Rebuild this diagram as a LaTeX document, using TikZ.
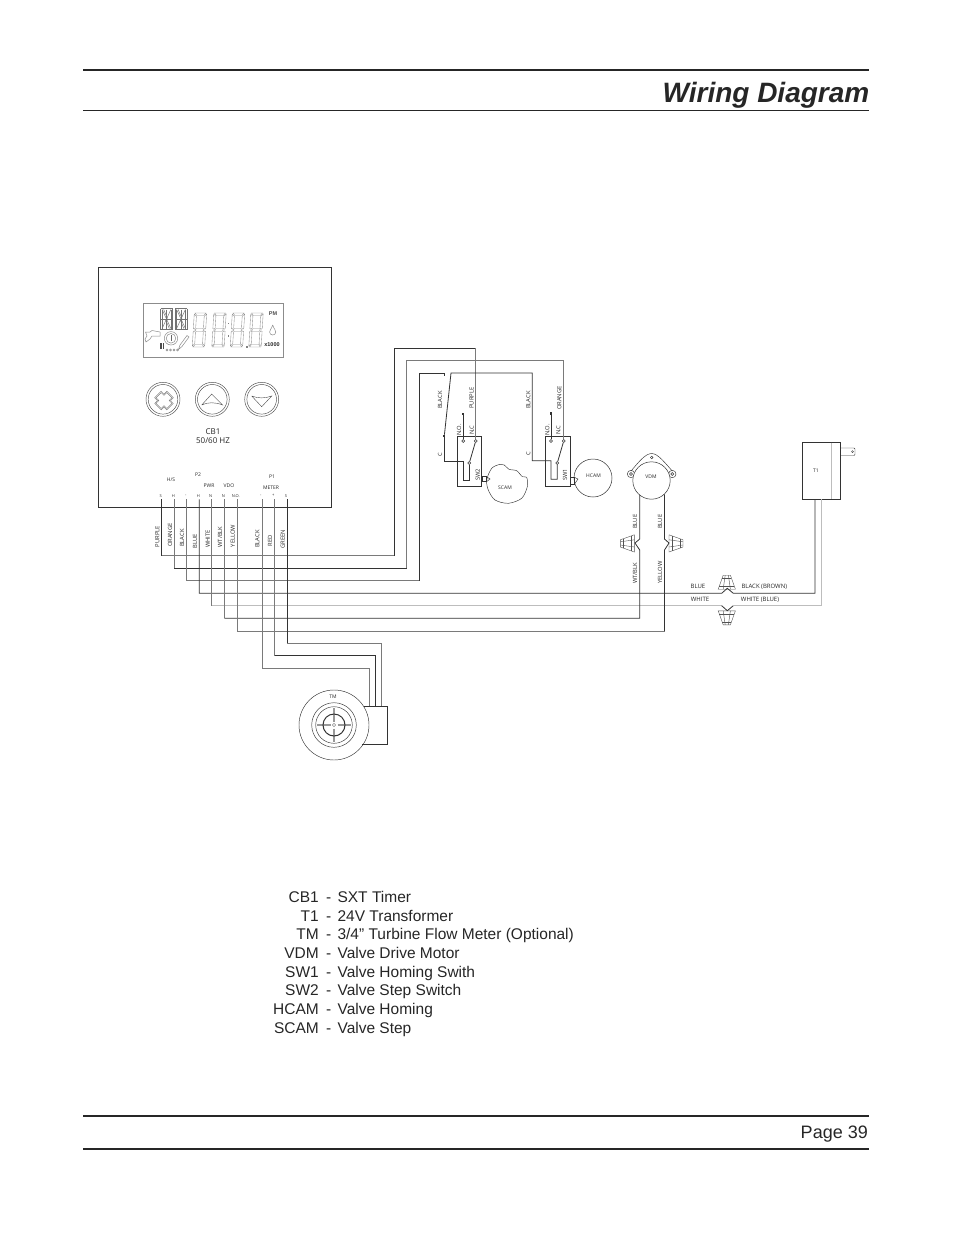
\documentclass[tikz,border=0pt]{standalone}
\usepackage{fontspec}
\setmainfont{Liberation Sans}
\newfontfamily\smallfont{Open Sans}
\usepackage{tikz}
\usepackage{xcolor}

\definecolor{wiredark}{HTML}{333333}
\definecolor{wiremid}{HTML}{7A7A7A}
\definecolor{wirelight}{HTML}{BDBDBD}

\tikzset{
  wirea/.style={draw=wiredark,line width=0.8pt},
  wireb/.style={draw=wiremid,line width=0.8pt},
  wirec/.style={draw=wirelight,line width=0.9pt},
  part/.style={draw=wiredark,line width=0.45pt},
  lcdline/.style={draw=black!45,line width=0.35pt},
  tag/.style={inner sep=0pt,font=\smallfont\fontsize{5}{5}\selectfont,text=black!85},
  widetag/.style={inner sep=0pt,font=\smallfont\fontsize{6}{6}\selectfont,text=black!85},
  vtag/.style={inner sep=0pt,rotate=90,font=\smallfont\fontsize{5.8}{5.8}\selectfont,text=black!85},
  pin/.style={inner sep=0pt,font=\smallfont\fontsize{4}{4}\selectfont,text=black!85},
  term/.style={circle,draw=wiredark,fill=white,line width=0.5pt,inner sep=0pt,minimum size=3pt},
  stubend/.style={rectangle,fill=wiredark,inner sep=0pt,minimum size=2.2pt},
  legendname/.style={anchor=base east,inner sep=0pt,font=\fontsize{15.5}{15.5}\selectfont,text=black!85},
  legendtext/.style={anchor=base west,inner sep=0pt,font=\fontsize{15.5}{15.5}\selectfont,text=black!85},
}

% one seven-segment digit, top left corner at #1,#2
\newcommand{\lcddigit}[2]{
  \begin{scope}[shift={(#1,#2)},xslant=0.06,lcdline]
    \draw(1,0)--(12,0)--(10,2.5)--(3,2.5)--cycle;
    \draw(1,34)--(12,34)--(10,31.5)--(3,31.5)--cycle;
    \draw(2,17)--(3.5,15.5)--(9.5,15.5)--(11,17)--(9.5,18.5)--(3.5,18.5)--cycle;
    \draw(0.3,1)--(2.6,3.4)--(2.6,14.8)--(1.2,16.2)--(0.3,15.5)--cycle;
    \draw(12.7,1)--(10.4,3.4)--(10.4,14.8)--(11.8,16.2)--(12.7,15.5)--cycle;
    \draw(0.3,18.5)--(1.2,17.8)--(2.6,19.2)--(2.6,30.6)--(0.3,33)--cycle;
    \draw(12.7,18.5)--(11.8,17.8)--(10.4,19.2)--(10.4,30.6)--(12.7,33)--cycle;
  \end{scope}
}
% one letter cell of the display
\newcommand{\lcdletter}[2]{
  \begin{scope}[shift={(#1,#2)},draw=black!55,line width=0.45pt]
    \draw(0,0)--(12,0);
    \draw(0,21)--(12,21);
    \draw(0,0)--(0,21);
    \draw(12,0)--(12,21);
    \draw(0,10.5)--(12,10.5);
    \draw(1.6,1)--(1.6,20);
    \draw(10.4,1)--(10.4,20);
    \draw(6,1)--(6,20);
    \draw(1.6,1)--(6,10.5)--(10.4,1);
    \draw(1.6,20)--(6,10.5)--(10.4,20);
    \draw(3.2,1)--(7,10);
    \draw(8.8,20)--(5,11);
  \end{scope}
}
% wire connector, wide side at #1,#2, turned by #3
\newcommand{\wirenut}[3]{
  \begin{scope}[shift={(#1,#2)},rotate=#3,draw=wiredark!85,line width=0.4pt]
    \draw(-8.6,0)--(-3.6,-14)--(3.6,-14)--(8.6,0)--cycle;
    \draw(-7.6,-3)--(7.6,-3);
    \draw(-4.4,-11.5)--(4.4,-11.5);
    \draw(-3.6,0)--(-1.6,-14);
    \draw(3.6,0)--(1.6,-14);
  \end{scope}
}

\begin{document}
\begin{tikzpicture}[x=1pt,y=-1pt]
        \useasboundingbox (0,0) rectangle (954,1235);

        % page head and foot
        \coordinate(heada) at (83,70);
        \coordinate(headb) at (869,70);
        \coordinate(headc) at (83,110);
        \coordinate(headd) at (869,110);
        \coordinate(foota) at (83,1116);
        \coordinate(footb) at (869,1116);
        \coordinate(footc) at (83,1149);
        \coordinate(footd) at (869,1149);
        \draw[line width=1.7pt,black!85](heada)--(headb);
        \draw[line width=0.7pt,black!85](headc)--(headd);
        \draw[line width=1.7pt,black!85](foota)--(footb);
        \draw[line width=1.7pt,black!85](footc)--(footd);
        \node[anchor=base east,inner sep=0pt,font=\fontsize{28}{28}\selectfont\bfseries\itshape,text=black!85](title) at (869.5,102) {Wiring Diagram};
        \node[anchor=base east,inner sep=0pt,font=\fontsize{18}{18}\selectfont,text=black!85](page) at (868,1138) {Page 39};

        % timer
        \draw[line width=0.8pt,wiredark](98,267) rectangle (331.5,507);
        \draw[draw=black!45,line width=0.6pt](143,303.5) rectangle (283,357);
        \lcdletter{160.5}{308.5}
        \lcdletter{175}{308.5}
        \lcddigit{194}{313}
        \lcddigit{213.5}{313}
        \lcddigit{232}{313}
        \lcddigit{250.5}{313}
        \fill[black!50](227.5,322.5) rectangle (229,324);
        \fill[black!50](227.5,335) rectangle (229,336.5);
        \fill[black!50](246,346) rectangle (247.5,347.5);
        \node[inner sep=0pt,font=\fontsize{5.5}{5.5}\selectfont\bfseries,text=black!70](pmsign) at (273,314) {PM};
        \node[inner sep=0pt,font=\fontsize{5.5}{5.5}\selectfont\bfseries,text=black!85](xsign) at (272,345) {x1000};
        \draw[lcdline,line width=0.5pt](272.7,325) .. controls (271.5,329) and (269.6,330) .. (269.6,332) .. controls (269.6,336) and (275.8,336) .. (275.8,332) .. controls (275.8,330) and (273.9,329) .. (272.7,325);
        % tap, clock, dots, pencil
        \draw[lcdline,line width=0.5pt](145.5,332)--(150,332)--(152,330.5)--(160,332)--(160,336)--(152,336)--(150,339)--(146,342)--(145,339)--(147,336)--cycle;
        \draw[black!70,line width=0.5pt](160,343)--(160,349);
        \draw[black!70,line width=0.5pt](161.5,343)--(161.5,349);
        \draw[black!70,line width=0.5pt](163,343)--(163,349);
        \draw[lcdline,line width=0.5pt](171,338.3) circle (6.7);
        \draw[lcdline,line width=0.5pt](171,338.3) circle (4.8);
        \draw[black!60,line width=0.9pt](171,334.5)--(171,341);
        \draw[lcdline,line width=0.5pt](167,350) circle (1);
        \draw[lcdline,line width=0.5pt](170.5,350) circle (1);
        \draw[lcdline,line width=0.5pt](174,350) circle (1);
        \draw[lcdline,line width=0.5pt](177.5,350) circle (1);
        \draw[lcdline,line width=0.5pt](178.5,349.5)--(180,345)--(187,335.5)--(189,337)--(182,346.5)--cycle;

        % timer buttons
        \draw[line width=0.45pt,black!70](163,399.3) circle (17);
        \draw[line width=0.45pt,black!70](163,399.3) circle (14.8);
        \draw[line width=0.45pt,black!70](212.3,399.3) circle (17);
        \draw[line width=0.45pt,black!70](212.3,399.3) circle (14.8);
        \draw[line width=0.45pt,black!70](261.7,399.3) circle (17);
        \draw[line width=0.45pt,black!70](261.7,399.3) circle (14.8);
        \begin{scope}[shift={(164,400.5)},rotate=45,line width=0.35pt,draw=black!60]
          \draw(-4.6,-8.6)--(4.6,-8.6)--(4.6,-4.6)--(8.6,-4.6)--(8.6,4.6)--(4.6,4.6)--(4.6,8.6)--(-4.6,8.6)--(-4.6,4.6)--(-8.6,4.6)--(-8.6,-4.6)--(-4.6,-4.6)--cycle;
          \draw(-3.6,-7.6)--(3.6,-7.6)--(3.6,-3.6)--(7.6,-3.6)--(7.6,3.6)--(3.6,3.6)--(3.6,7.6)--(-3.6,7.6)--(-3.6,3.6)--(-7.6,3.6)--(-7.6,-3.6)--(-3.6,-3.6)--cycle;
        \end{scope}
        \draw[line width=0.4pt,black!70](201.7,405)--(211.7,394)--(222.7,405) .. controls (215,402) and (208,402) .. (201.7,405);
        \draw[line width=0.4pt,black!70](251.7,396)--(261.7,406.7)--(271.7,396) .. controls (265,398.5) and (258,398.5) .. (251.7,396);
        \node[inner sep=0pt,font=\smallfont\fontsize{8}{8}\selectfont,text=black!85](cbname) at (213,432) {CB1};
        \node[inner sep=0pt,font=\smallfont\fontsize{8}{8}\selectfont,text=black!85](cbfreq) at (213,441) {50/60 HZ};

        % connector row
        \node[tag](hs) at (171,480) {H/S};
        \node[tag](ptwo) at (198,475) {P2};
        \node[tag](pwr) at (209,485.5) {PWR};
        \node[tag](vdo) at (229,485.5) {VDO};
        \node[tag](pone) at (272,477) {P1};
        \node[tag](meter) at (271,488) {METER};
        \node[pin](pina) at (160.7,495.7) {S};
        \node[pin](pinb) at (173.3,495.7) {H};
        \node[pin](pinc) at (185.7,495.7) {-};
        \node[pin](pind) at (198.3,495.7) {H};
        \node[pin](pine) at (210.7,495.7) {N};
        \node[pin](pinf) at (223.3,495.7) {N};
        \node[pin](ping) at (235.7,495.7) {N.O.};
        \node[pin](pinh) at (260.7,495.7) {-};
        \node[pin](pini) at (273.3,495.7) {+};
        \node[pin](pinj) at (286,495.7) {S};

        \coordinate(purpletop) at (161.7,499.3);
        \coordinate(orangetop) at (174.3,499.3);
        \coordinate(blacktop) at (186.7,499.3);
        \coordinate(bluetop) at (199.3,499.3);
        \coordinate(whitetop) at (211.7,499.3);
        \coordinate(wtblktop) at (224.3,499.3);
        \coordinate(yellowtop) at (237,499.3);
        \coordinate(mblacktop) at (262,499.3);
        \coordinate(redtop) at (274.7,499.3);
        \coordinate(greentop) at (287.3,499.3);

        \node[vtag](purplelabel) at (157.3,536.7) {PURPLE};
        \node[vtag](orangelabel) at (170,535) {ORANGE};
        \node[vtag](blacklabel) at (182,538) {BLACK};
        \node[vtag](bluelabel) at (195,541) {BLUE};
        \node[vtag](whitelabel) at (207.7,539) {WHITE};
        \node[vtag](wtblklabel) at (220,537) {WT/BLK};
        \node[vtag](yellowlabel) at (232.7,536) {YELLOW};
        \node[vtag](mblacklabel) at (257.3,539) {BLACK};
        \node[vtag](redlabel) at (270,541) {RED};
        \node[vtag](greenlabel) at (282.7,539) {GREEN};

        % switch SW2 and its cam
        \node[draw=wiredark,line width=0.5pt,minimum width=24.7pt,minimum height=50.7pt,inner sep=0pt](swtwo) at (469.35,461.35) {};
        \node[vtag](swtwolabel) at (477.7,475) {SW2};
        \node[vtag](cpintwo) at (440,455) {C};
        \node[vtag](nolabtwo) at (459,430) {N.O.};
        \node[vtag](nclabtwo) at (471.7,430) {N.C};
        \node[vtag](blkswtwo) at (440,400) {BLACK};
        \node[vtag](purswtwo) at (471.5,398) {PURPLE};
        \node[term](nctwo) at (475.7,441) {};
        \node[term](notwo) at (463.3,441) {};
        \node[term](pivottwo) at (469.3,463) {};
        \node[stubend](nostubtwo) at (463.3,413.7) {};
        \node[stubend](ctwo) at (444.3,436) {};
        \draw[wirea](nostubtwo)--(notwo);
        \draw[wirea](pivottwo)--(nctwo);
        \coordinate(ubendtwo) at (463.3,461);
        \coordinate(ubottwoa) at (463.3,480);
        \coordinate(ubottwob) at (469.3,480);
        \coordinate(cdowntwo) at (444.3,461);
        \draw[wirea](ctwo)--(cdowntwo)--(ubendtwo)--(ubottwoa)--(ubottwob)--(pivottwo);
        \draw[part](482,476.7) rectangle (486.5,481.7);
        \draw[part](486.5,476.7)--(490,479)--(486.5,481.7);
        \draw[part] plot[smooth cycle] coordinates {(486.7,480) (491.7,468.3) (500,464.3) (504.3,465) (509,469.3) (516.7,470.7) (522.3,476.7) (526.7,477.3) (527.3,486.7) (521.7,498.3) (508.3,503.3) (495,500) (488.3,490)};
        \node[tag](scam) at (505,488) {SCAM};

        % switch SW1 and its cam
        \node[draw=wiredark,line width=0.5pt,minimum width=25pt,minimum height=50.7pt,inner sep=0pt](swone) at (557.5,461.35) {};
        \node[vtag](swonelabel) at (565,475) {SW1};
        \node[vtag](cpinone) at (528.3,454) {C};
        \node[vtag](nolabone) at (547.3,430) {N.O.};
        \node[vtag](nclabone) at (558.3,430) {N.C};
        \node[vtag](blkswone) at (528.3,400) {BLACK};
        \node[vtag](orswone) at (559.3,398) {ORANGE};
        \node[term](ncone) at (563.7,441) {};
        \node[term](noone) at (551,441) {};
        \node[term](pivotone) at (557.3,463) {};
        \node[stubend](nostubone) at (551,413.5) {};
        \draw[wirea](nostubone)--(noone);
        \draw[wirea](pivotone)--(ncone);
        \draw[part](570,477.3) rectangle (574.5,484);
        \draw[part](574.5,477.3)--(578,479)--(574.5,484);
        \node[circle,draw=wiredark,line width=0.5pt,minimum size=38pt,inner sep=0pt](hcamwheel) at (593,478) {};
        \node[tag](hcam) at (593.5,476) {HCAM};

        % drive motor
        \draw[part](631,471) .. controls (638,463) and (645,453.5) .. (651.7,453.5) .. controls (658,453.5) and (665,463) .. (672.3,471);
        \draw[part](631,474) circle (3.7);
        \draw[part](672.3,474) circle (3.7);
        \draw[part](631,474) circle (1.5);
        \draw[part](672.3,474) circle (1.5);
        \draw[part](651.7,457.5) circle (1.3);
        \node[circle,draw=wiredark,fill=white,line width=0.5pt,minimum size=37.4pt,inner sep=0pt](vdmwheel) at (651.5,480.5) {};
        \node[tag](vdm) at (651,477) {VDM};
        \node[vtag](bluel) at (635,521.7) {BLUE};
        \node[vtag](bluer) at (660,521.7) {BLUE};
        \node[vtag](wtblkv) at (635,573.3) {WT/BLK};
        \node[vtag](yellowv) at (660,572.7) {YELLOW};

        \wirenut{634.3}{543.4}{90}
        \wirenut{669}{543.4}{-90}
        \wirenut{726.8}{589.2}{0}
        \wirenut{726.8}{610.8}{180}

        % transformer
        \node[draw=wiredark,line width=0.5pt,minimum width=38pt,minimum height=56.6pt,inner sep=0pt](tone) at (821.7,471) {};
        \coordinate(tonelinea) at (831,442.7);
        \coordinate(tonelineb) at (831,499.3);
        \draw[wirelight,line width=0.8pt](tonelinea)--(tonelineb);
        \draw[draw=wiredark,line width=0.4pt,rounded corners=1pt](840.7,448)--(855,448)--(855,455.5)--(840.7,455.5);
        \draw[draw=wiredark,line width=0.35pt](852.5,451.7) circle (1);
        \node[tag](tonelabel) at (816,471) {T1};
        \coordinate(tonebk) at (815,499.3);
        \coordinate(tonewh) at (821.7,499.3);
        \node[widetag](bluebk) at (698,586.7) {BLUE};
        \node[widetag](whitewh) at (700,599.7) {WHITE};
        \node[widetag](brownbk) at (764.3,586.7) {BLACK (BROWN)};
        \node[widetag](bluewh) at (760,599.7) {WHITE (BLUE)};

        % flow meter
        \draw[part](364,706)--(387.7,706)--(387.7,744)--(362,744);
        \draw[part](334,725) circle (35);
        \draw[draw=black!40,line width=1.4pt](337.5,725)--(351.3,725);
        \draw[draw=black!40,line width=1.4pt](330.5,725)--(316.7,725);
        \draw[draw=black!40,line width=1.4pt](334,721.5)--(334,707.7);
        \draw[draw=black!40,line width=1.4pt](334,728.5)--(334,742.3);
        \draw[part](334,725) circle (22.3);
        \draw[part](334,725) circle (18.3);
        \draw[line width=1pt,wiredark](334,725) circle (11);
        \draw[draw=black!60,line width=0.4pt](334,725) circle (1.6);
        \node[tag](tm) at (333,697) {TM};

        % wires from the timer
        \coordinate(purpleq) at (161.7,555.7);
        \coordinate(purplea) at (394,555.7);
        \coordinate(purpleb) at (394,348);
        \coordinate(purplec) at (475.7,348);
        \draw[wirea](purpletop)--(purpleq);
        \draw[wireb](purpleq)--(purplea);
        \draw[wirea](purplea)--(purpleb)--(purplec);
        \draw[wireb](purplec)--(nctwo);

        \coordinate(orangeq) at (174.3,568.3);
        \coordinate(orangea) at (406.7,568.3);
        \coordinate(orangeb) at (406.7,360.7);
        \coordinate(orangec) at (563.7,360.7);
        \draw[wireb](orangetop)--(orangeq);
        \draw[wirea](orangeq)--(orangea);
        \draw[wireb](orangea)--(orangeb)--(orangec)--(ncone);

        \coordinate(blackq) at (186.7,580.7);
        \coordinate(blacka) at (419.3,580.7);
        \coordinate(blackb) at (419.3,373);
        \coordinate(blackc) at (444.3,373);
        \coordinate(blackd) at (444.3,376);
        \draw[wireb](blacktop)--(blackq)--(blacka);
        \draw[wirea](blacka)--(blackb)--(blackc)--(blackd);
        \coordinate(blacke) at (451,373);
        \coordinate(blackf) at (532.3,373);
        \coordinate(blackg) at (532.3,460.7);
        \coordinate(blackh) at (551,460.7);
        \coordinate(blacki) at (551,479.3);
        \coordinate(blackj) at (557.3,479.3);
        \draw[wirea](ctwo)--(blacke)--(blackf)--(blackg)--(blackh)--(blacki)--(blackj)--(pivotone);

        \coordinate(bluea) at (721.7,593.3);
        \coordinate(blueb) at (727.3,588.3);
        \coordinate(bluec) at (733.3,593.3);
        \draw[wirea](bluetop)|-(bluea)--(blueb)--(bluec)-|(tonebk);

        \coordinate(whiteq) at (211.7,605.7);
        \coordinate(whitea) at (721.7,605.7);
        \coordinate(whiteb) at (727.3,610.7);
        \coordinate(whitec) at (733.3,605.7);
        \draw[wireb](whitetop)--(whiteq);
        \draw[wirec](whiteq)--(whitea);
        \draw[wirea](whitea)--(whiteb)--(whitec);
        \draw[wirec](whitec)-|(tonewh);

        \coordinate(wtblkq) at (224.3,618.3);
        \coordinate(wtblka) at (639.7,618.3);
        \coordinate(wtblkb) at (639.7,550);
        \coordinate(wtblkc) at (635,543);
        \coordinate(wtblkd) at (639.7,539);
        \coordinate(wtblke) at (639.7,495.2);
        \draw[wireb](wtblktop)--(wtblkq);
        \draw[wirea](wtblkq)--(wtblka)--(wtblkb)--(wtblkc)--(wtblkd)--(wtblke);

        \coordinate(yellowa) at (664.5,631);
        \coordinate(yellowb) at (664.5,550);
        \coordinate(yellowc) at (669,543);
        \coordinate(yellowd) at (664.5,539);
        \coordinate(yellowe) at (664.5,494.4);
        \draw[wireb](yellowtop)|-(yellowa);
        \draw[wirea](yellowa)--(yellowb)--(yellowc)--(yellowd)--(yellowe);

        \coordinate(mblacka) at (369,668);
        \coordinate(mblackb) at (369,706);
        \draw[wireb](mblacktop)|-(mblacka)--(mblackb);
        \coordinate(redq) at (274.7,655.7);
        \coordinate(reda) at (375.7,655.7);
        \coordinate(redb) at (375.7,706);
        \draw[wireb](redtop)--(redq);
        \draw[wirea](redq)--(reda)--(redb);
        \coordinate(greenq) at (287.3,643.3);
        \coordinate(greena) at (381,643.3);
        \coordinate(greenb) at (381,706);
        \draw[wirea](greentop)--(greenq);
        \draw[wireb](greenq)--(greena)--(greenb);

        % parts list
        \node[legendname](cba) at (319,902) {CB1};
        \node[legendname](tra) at (319,921) {T1};
        \node[legendname](tma) at (319,939.5) {TM};
        \node[legendname](vda) at (319,958) {VDM};
        \node[legendname](swa) at (319,977) {SW1};
        \node[legendname](swb) at (319,995.5) {SW2};
        \node[legendname](hca) at (319,1014) {HCAM};
        \node[legendname](sca) at (319,1033) {SCAM};
        \node[legendtext](cbb) at (326,902) {-\hspace{0.4em}SXT Timer};
        \node[legendtext](trb) at (326,921) {-\hspace{0.4em}24V Transformer};
        \node[legendtext](tmb) at (326,939.5) {-\hspace{0.4em}3/4” Turbine Flow Meter (Optional)};
        \node[legendtext](vdb) at (326,958) {-\hspace{0.4em}Valve Drive Motor};
        \node[legendtext](swc) at (326,977) {-\hspace{0.4em}Valve Homing Swith};
        \node[legendtext](swd) at (326,995.5) {-\hspace{0.4em}Valve Step Switch};
        \node[legendtext](hcb) at (326,1014) {-\hspace{0.4em}Valve Homing};
        \node[legendtext](scb) at (326,1033) {-\hspace{0.4em}Valve Step};
\end{tikzpicture}
\end{document}
